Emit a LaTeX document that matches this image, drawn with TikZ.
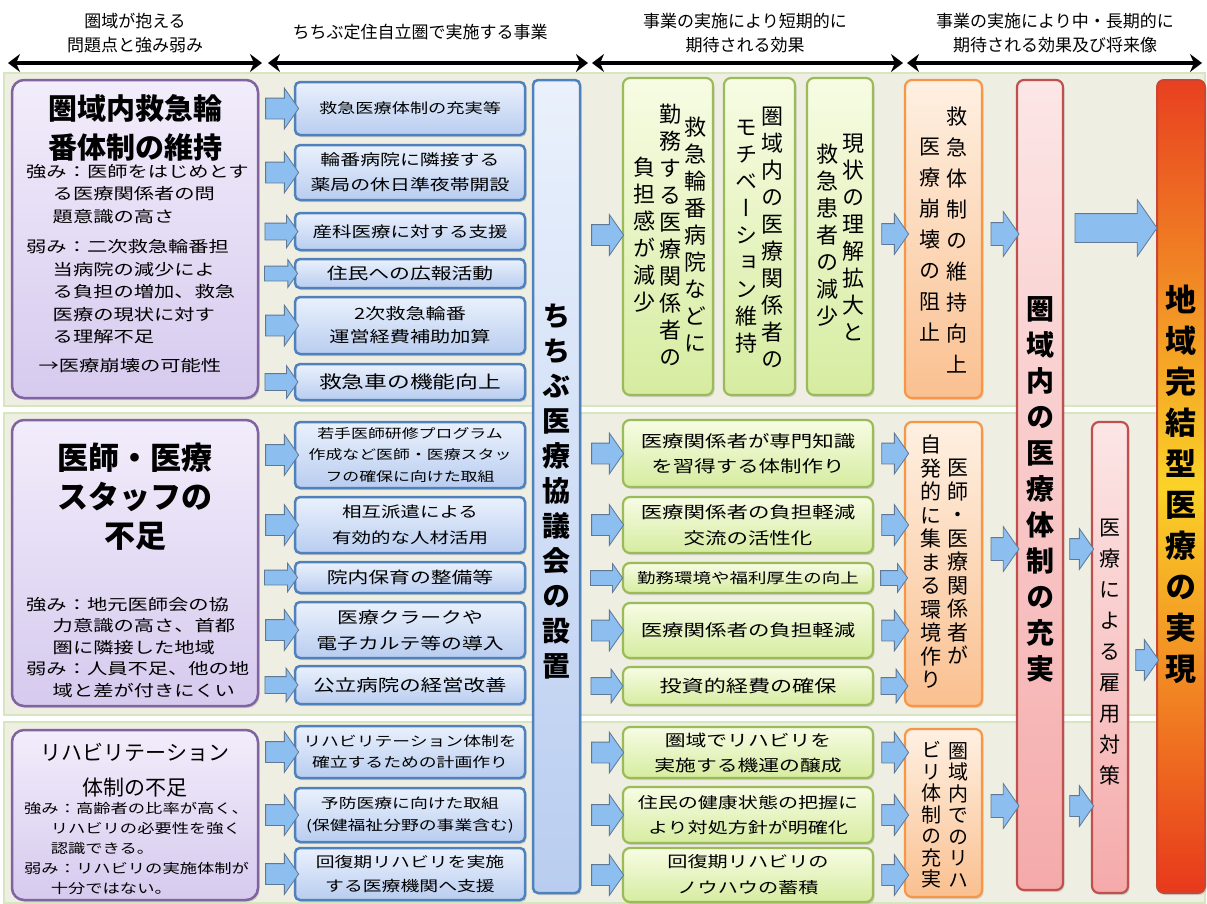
\documentclass[tikz,border=0pt]{standalone}
\usepackage{fontspec}
\setmainfont{Noto Sans CJK JP}
\newfontfamily\jpw[FakeStretch=1.3]{Noto Sans CJK JP}
\newfontfamily\vjp[RawFeature=+vert]{Noto Sans CJK JP}
\usetikzlibrary{shapes.arrows,arrows.meta,shadows}
\newcommand\jfs[2]{\fontsize{#1}{#2}\selectfont}
\ExplSyntaxOn
\tl_new:N \l__vt_tl
\bool_new:N \l__vt_first_bool
\NewDocumentCommand \vt { m }
  {
    \tl_clear:N \l__vt_tl
    \bool_set_true:N \l__vt_first_bool
    \tl_map_inline:nn { #1 }
      {
        \bool_if:NTF \l__vt_first_bool
          { \bool_set_false:N \l__vt_first_bool }
          { \tl_put_right:Nn \l__vt_tl { \\ } }
        \tl_put_right:Nn \l__vt_tl { ##1 }
      }
    \tl_use:N \l__vt_tl
  }
\ExplSyntaxOff
\definecolor{bgc}{RGB}{238,238,226}
\definecolor{bgline}{RGB}{214,230,190}
\definecolor{pBord}{RGB}{128,100,162}
\definecolor{pTop}{RGB}{242,237,251}
\definecolor{pBot}{RGB}{214,202,238}
\definecolor{bBord}{RGB}{79,129,189}
\definecolor{bTop}{RGB}{234,241,252}
\definecolor{bBot}{RGB}{185,205,240}
\definecolor{gBord}{RGB}{155,187,89}
\definecolor{gTop}{RGB}{247,252,228}
\definecolor{gBot}{RGB}{214,236,160}
\definecolor{oBord}{RGB}{247,150,70}
\definecolor{oTop}{RGB}{254,240,226}
\definecolor{oBot}{RGB}{250,192,144}
\definecolor{rBord}{RGB}{192,80,77}
\definecolor{rTop}{RGB}{252,230,230}
\definecolor{rBot}{RGB}{245,170,170}
\definecolor{fBord}{RGB}{200,70,50}
\definecolor{fTop}{RGB}{232,64,32}
\definecolor{fMid}{RGB}{250,210,40}
\definecolor{fBot}{RGB}{232,56,28}
\definecolor{aFill}{RGB}{140,190,240}
\definecolor{aEdge}{RGB}{95,120,150}
\tikzset{
  hdr/.style={align=center, inner sep=0pt, font=\jfs{17}{24}},
  hdrarrow/.style={line width=3.5pt, {Stealth[length=12pt,width=18pt]}-{Stealth[length=12pt,width=18pt]}},
  bgbox/.style={fill=bgc, draw=bgline, line width=1.5pt},
  shd/.style={drop shadow={shadow xshift=1.5pt, shadow yshift=-2pt, opacity=0.28}},
  pbox/.style={draw=pBord, line width=2.5pt, rounded corners=12pt, top color=pTop, bottom color=pBot, shd, inner sep=0pt},
  bbox/.style={draw=bBord, line width=2.5pt, rounded corners=5pt, top color=bTop, bottom color=bBot, shd, align=center, inner sep=0pt, font=\jpw\jfs{15}{22}},
  gbox/.style={draw=gBord, line width=2.2pt, rounded corners=7pt, top color=gTop, bottom color=gBot, shd, align=center, inner sep=0pt, font=\jpw\jfs{16}{25}},
  obox/.style={draw=oBord, line width=2.2pt, rounded corners=7pt, top color=oTop, bottom color=oBot, shd, inner sep=0pt},
  rbox/.style={draw=rBord, line width=2.2pt, rounded corners=7pt, top color=rTop, bottom color=rBot, shd, inner sep=0pt},
  finbox/.style={draw=fBord, line width=2pt, rounded corners=7pt, top color=fTop, bottom color=fBot, middle color=fMid, shd, inner sep=0pt},
  vtx/.style 2 args={align=center, inner sep=0pt, font=\vjp\jfs{#1}{#2}},
  vtxb/.style 2 args={align=center, inner sep=0pt, font=\vjp\bfseries\jfs{#1}{#2}},
  ptitle/.style 2 args={align=center, inner sep=0pt, font=\bfseries\jfs{#1}{#2}},
  pbody/.style 2 args={align=left, inner sep=0pt, anchor=north west, font=\jpw\jfs{#1}{#2}},
  barr/.style n args={3}{single arrow, draw=aEdge, fill=aFill, line width=0.8pt, inner sep=0pt,
     minimum height=#1, text height=#2, text depth=0pt, text width=0pt, single arrow head extend=#3, single arrow tip angle=110},
}
\begin{document}
\begin{tikzpicture}[x=1pt,y=-1pt]
\useasboundingbox (0,0) rectangle (1207,903);
\fill[white] (0,0) rectangle (1207,903);
% backgrounds
\path[bgbox] (4,73) rectangle (1205,406);
\path[bgbox] (4,413) rectangle (1205,715);
\path[bgbox] (4,722) rectangle (1205,903);
% header
\node[hdr] (h1) at (135,33) {圏域が抱える\\問題点と強み弱み};
\node[hdr] (h2) at (420,32) {ちちぶ定住自立圏で実施する事業};
\node[hdr] (h3) at (745,33) {事業の実施により短期的に\\期待される効果};
\node[hdr] (h4) at (1055,33) {事業の実施により中・長期的に\\期待される効果及び将来像};
\coordinate (ha1) at (8,63);   \coordinate (hb1) at (262,63);
\coordinate (ha2) at (268,63); \coordinate (hb2) at (588,63);
\coordinate (ha3) at (592,63); \coordinate (hb3) at (903,63);
\coordinate (ha4) at (907,63); \coordinate (hb4) at (1202,63);
\draw[hdrarrow] (ha1) -- (hb1);
\draw[hdrarrow] (ha2) -- (hb2);
\draw[hdrarrow] (ha3) -- (hb3);
\draw[hdrarrow] (ha4) -- (hb4);
% purple boxes
\node[pbox, minimum width=246pt, minimum height=318pt] (p1) at (135,239) {};
\node[ptitle={29}{39}] (p1t) at (135,128) {圏域内救急輪\\番体制の維持};
\node[pbody={15.6}{22.5}] (p1b) at (26,164) {強み：医師をはじめとす\\
\hspace*{1.7em}る医療関係者の問\\
\hspace*{1.7em}題意識の高さ\\[8pt]
弱み：二次救急輪番担\\
\hspace*{1.7em}当病院の減少によ\\
\hspace*{1.7em}る負担の増加、救急\\
\hspace*{1.7em}医療の現状に対す\\
\hspace*{1.7em}る理解不足\\[6pt]
\hspace*{0.8em}→医療崩壊の可能性};
\node[pbox, minimum width=246pt, minimum height=286pt] (p2) at (135,563) {};
\node[ptitle={31}{39}] (p2t) at (135,497) {医師・医療\\スタッフの\\不足};
\node[pbody={15.6}{21.5}] (p2b) at (26,597) {強み：地元医師会の協\\
\hspace*{1.7em}力意識の高さ、首都\\
\hspace*{1.7em}圏に隣接した地域\\
弱み：人員不足、他の地\\
\hspace*{1.7em}域と差が付きにくい};
\node[pbox, minimum width=246pt, minimum height=170pt] (p3) at (135,815) {};
\node[align=center, inner sep=0pt, font=\jfs{21}{35}] (p3t) at (135,770) {リハビリテーション\\体制の不足};
\node[pbody={13.3}{20}] (p3b) at (24,802) {強み：高齢者の比率が高く、\\
\hspace*{2em}リハビリの必要性を強く\\
\hspace*{2em}認識できる。\\
弱み：リハビリの実施体制が\\
\hspace*{2em}十分ではない。};
% blue boxes
\node[bbox, minimum width=230pt, minimum height=53pt, font=\jpw\jfs{14}{20}] (b1) at (410,108.5) {救急医療体制の充実等};
\node[bbox, minimum width=230pt, minimum height=55pt, font=\jpw\jfs{15.3}{25}] (b2) at (410,172.5) {輪番病院に隣接する\\薬局の休日準夜帯開設};
\node[bbox, minimum width=230pt, minimum height=37pt, font=\jpw\jfs{15}{20}] (b3) at (410,231.5) {産科医療に対する支援};
\node[bbox, minimum width=230pt, minimum height=29pt, font=\jpw\jfs{16}{20}] (b4) at (410,273.5) {住民への広報活動};
\node[bbox, minimum width=230pt, minimum height=57pt, font=\jpw\jfs{15.5}{23}] (b5) at (410,325.5) {2次救急輪番\\運営経費補助加算};
\node[bbox, minimum width=230pt, minimum height=36pt, font=\jpw\jfs{17.5}{22}] (b6) at (410,382) {救急車の機能向上};
\node[bbox, minimum width=230pt, minimum height=66pt, font=\jpw\jfs{13}{21.5}] (b7) at (410,455) {若手医師研修プログラム\\作成など医師・医療スタッ\\フの確保に向けた取組};
\node[bbox, minimum width=230pt, minimum height=56pt, font=\jpw\jfs{15}{26}] (b8) at (410,525) {相互派遣による\\有効的な人材活用};
\node[bbox, minimum width=230pt, minimum height=31pt, font=\jpw\jfs{16}{20}] (b9) at (410,577.5) {院内保育の整備等};
\node[bbox, minimum width=230pt, minimum height=56pt, font=\jpw\jfs{16}{26}] (b10) at (410,630) {医療クラークや\\電子カルテ等の導入};
\node[bbox, minimum width=230pt, minimum height=38pt, font=\jpw\jfs{16.5}{20}] (b11) at (410,685) {公立病院の経営改善};
\node[bbox, minimum width=230pt, minimum height=52pt, font=\jpw\jfs{13.7}{21}] (b12) at (410,752) {リハビリテーション体制を\\確立するための計画作り};
\node[bbox, minimum width=230pt, minimum height=54pt, font=\jpw\jfs{13.7}{22}] (b13) at (410,815) {予防医療に向けた取組\\(保健福祉分野の事業含む)};
\node[bbox, minimum width=230pt, minimum height=52pt, font=\jpw\jfs{14.5}{24}] (b14) at (410,874) {回復期リハビリを実施\\する医療機関へ支援};
% central box
\node[bbox, minimum width=47pt, minimum height=813pt] (cb) at (556.5,486.5) {};
\node[vtxb={28}{35}] (cbt) at (556.5,492) {\vt{ちちぶ医療協議会の設置}};
% green vertical boxes
\node[gbox, minimum width=90pt, minimum height=317pt] (ga) at (668,236.5) {};
\node[vtx={22}{27}] (ga1) at (695,235) {\vt{救急輪番病院などに}};
\node[vtx={22}{27}] (ga2) at (670,235) {\vt{勤務する医療関係者の}};
\node[vtx={22}{27}] (ga3) at (644,235) {\vt{負担感が減少}};
\node[gbox, minimum width=71pt, minimum height=317pt] (gb) at (759.5,236.5) {};
\node[vtx={22}{27}] (gb1) at (772,237) {\vt{圏域内の医療関係者の}};
\node[vtx={22}{27}] (gb2) at (746,237) {\vt{モチベーション維持}};
\node[gbox, minimum width=66pt, minimum height=317pt] (gc) at (840,236.5) {};
\node[vtx={22}{27}] (gc1) at (853,237) {\vt{現状の理解拡大と}};
\node[vtx={22}{27}] (gc2) at (827,235) {\vt{救急患者の減少}};
% green horizontal boxes
\node[gbox, minimum width=250pt, minimum height=67pt, font=\jpw\jfs{16.5}{25}] (g1) at (748,453.5) {医療関係者が専門知識\\を習得する体制作り};
\node[gbox, minimum width=250pt, minimum height=56pt, font=\jpw\jfs{16.5}{26}] (g2) at (748,525) {医療関係者の負担軽減\\交流の活性化};
\node[gbox, minimum width=250pt, minimum height=30pt, font=\jpw\jfs{14.2}{20}] (g3) at (748,578) {勤務環境や福利厚生の向上};
\node[gbox, minimum width=250pt, minimum height=55pt, font=\jpw\jfs{16.5}{20}] (g4) at (748,630.5) {医療関係者の負担軽減};
\node[gbox, minimum width=250pt, minimum height=38pt, font=\jpw\jfs{17}{20}] (g5) at (748,686) {投資的経費の確保};
\node[gbox, minimum width=250pt, minimum height=51pt, font=\jpw\jfs{16}{25}] (g6) at (748,752.5) {圏域でリハビリを\\実施する機運の醸成};
\node[gbox, minimum width=250pt, minimum height=56pt, font=\jpw\jfs{15.4}{25}] (g7) at (748,815) {住民の健康状態の把握に\\より対処方針が明確化};
\node[gbox, minimum width=250pt, minimum height=54pt, font=\jpw\jfs{15.5}{26}] (g8) at (748,875) {回復期リハビリの\\ノウハウの蓄積};
% orange boxes
\node[obox, minimum width=77pt, minimum height=318pt] (o1) at (943.5,239) {};
\node[vtx={21}{31}] (o1a) at (957,240) {\vt{救急体制の維持向上}};
\node[vtx={21}{31}] (o1b) at (930,240) {\vt{医療崩壊の阻止}};
\node[obox, minimum width=77pt, minimum height=284pt] (o2) at (943.5,564) {};
\node[vtx={21}{23.5}] (o2a) at (958,562) {\vt{医師・医療関係者が}};
\node[vtx={21}{23.5}] (o2b) at (931,562) {\vt{自発的に集まる環境作り}};
\node[obox, minimum width=77pt, minimum height=168pt] (o3) at (943.5,813) {};
\node[vtx={20}{21.5}] (o3a) at (958,815) {\vt{圏域内でのリハ}};
\node[vtx={20}{21.5}] (o3b) at (931,815) {\vt{ビリ体制の充実}};
% red, pink, final
\node[rbox, minimum width=46pt, minimum height=810pt] (r) at (1040,485) {};
\node[vtxb={28}{36}] (rt) at (1040,489) {\vt{圏域内の医療体制の充実}};
\node[rbox, minimum width=36pt, minimum height=471pt] (k) at (1110,657.5) {};
\node[vtx={21}{31}] (kt) at (1110,652) {\vt{医療による雇用対策}};
\node[finbox, minimum width=48pt, minimum height=813pt] (f) at (1181,486.5) {};
\node[vtxb={31}{41}] (ft) at (1181,484) {\vt{地域完結型医療の実現}};
% arrows: problems -> projects
\node[barr={33pt}{20pt}{10pt}] (a1) at (278.5,108.5) {};
\node[barr={33pt}{20pt}{10pt}] (a2) at (278.5,172.5) {};
\node[barr={33pt}{16pt}{8pt}] (a3) at (278.5,231.5) {};
\node[barr={33pt}{14pt}{6.5pt}] (a4) at (278.5,273.5) {};
\node[barr={33pt}{20pt}{10pt}] (a5) at (278.5,325.5) {};
\node[barr={33pt}{16pt}{8pt}] (a6) at (278.5,382) {};
\node[barr={33pt}{20pt}{10pt}] (a7) at (278.5,455) {};
\node[barr={33pt}{20pt}{10pt}] (a8) at (278.5,525) {};
\node[barr={33pt}{14pt}{7pt}] (a9) at (278.5,577.5) {};
\node[barr={33pt}{20pt}{10pt}] (a10) at (278.5,630) {};
\node[barr={33pt}{16pt}{8.5pt}] (a11) at (278.5,685) {};
\node[barr={33pt}{20pt}{10pt}] (a12) at (278.5,752) {};
\node[barr={33pt}{20pt}{10pt}] (a13) at (278.5,815) {};
\node[barr={33pt}{20pt}{10pt}] (a14) at (278.5,874) {};
% arrows: council -> short-term effects
\node[barr={32pt}{20pt}{10pt}] (c1) at (604,235) {};
\node[barr={32pt}{20pt}{10pt}] (c2) at (604,453.5) {};
\node[barr={32pt}{20pt}{10pt}] (c3) at (604,525) {};
\node[barr={32pt}{14pt}{7pt}] (c4) at (604,578) {};
\node[barr={32pt}{20pt}{10pt}] (c5) at (604,630.5) {};
\node[barr={32pt}{16pt}{8.5pt}] (c6) at (604,686) {};
\node[barr={32pt}{20pt}{10pt}] (c7) at (604,752.5) {};
\node[barr={32pt}{20pt}{10pt}] (c8) at (604,815) {};
\node[barr={32pt}{20pt}{10pt}] (c9) at (604,875) {};
% arrows: short-term -> mid-term
\node[barr={27pt}{20pt}{10pt}] (d1) at (891.5,234) {};
\node[barr={27pt}{20pt}{10pt}] (d2) at (891.5,453.5) {};
\node[barr={27pt}{20pt}{10pt}] (d3) at (891.5,525) {};
\node[barr={27pt}{14pt}{7pt}] (d4) at (891.5,578) {};
\node[barr={27pt}{20pt}{10pt}] (d5) at (891.5,630.5) {};
\node[barr={27pt}{16pt}{8.5pt}] (d6) at (891.5,686) {};
\node[barr={27pt}{20pt}{10pt}] (d7) at (891.5,752.5) {};
\node[barr={27pt}{20pt}{10pt}] (d8) at (891.5,815) {};
\node[barr={27pt}{20pt}{10pt}] (d9) at (891.5,875) {};
% arrows: mid-term -> red / pink / final
\node[barr={28pt}{22pt}{11pt}] (e1) at (1001,234) {};
\node[barr={28pt}{22pt}{11pt}] (e2) at (1001,549) {};
\node[barr={28pt}{22pt}{11pt}] (e3) at (1001,806) {};
\node[barr={24pt}{20pt}{10pt}] (e4) at (1078,549) {};
\node[barr={24pt}{20pt}{10pt}] (e5) at (1078,806) {};
\node[barr={23pt}{20pt}{10pt}] (e6) at (1143.5,660) {};
\node[barr={82pt}{28pt}{14pt}] (big) at (1111,228) {};
\end{tikzpicture}
\end{document}
